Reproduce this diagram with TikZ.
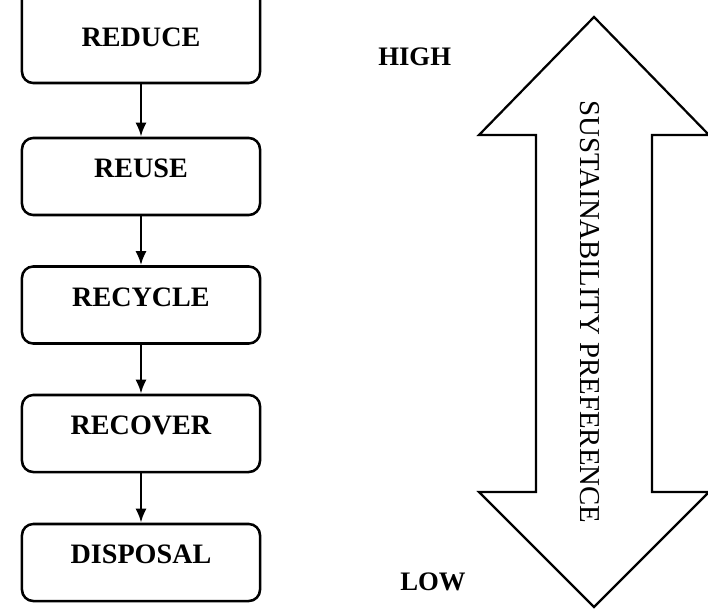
\documentclass[tikz,border=0pt]{standalone}
\usepackage{tikz}
\usetikzlibrary{positioning,arrows.meta}
\usepackage{fontspec}
\setmainfont{Liberation Serif}

\begin{document}
\begin{tikzpicture}[x=0.025cm, y=-0.025cm,
					stage/.style={rectangle, draw, rounded corners=8pt, line width=1.8pt,
						minimum width=5.95cm, minimum height=1.925cm,
						text height=12pt, text depth=10pt,
						font=\fontsize{20}{24}\selectfont\bfseries},
					flow/.style={-{Latex[length=10pt,width=8pt]}, line width=2pt}]
					\useasboundingbox (0,0) rectangle (708,610);
					% the five stages
					\node[stage, minimum height=2.7cm, text height=37pt, text depth=12pt] (reduce) at (141,29) {REDUCE};
					\node[stage] (reuse) at (141,176.5) {REUSE};
					\node[stage] (recycle) at (141,305) {RECYCLE};
					\node[stage] (recover) at (141,433.5) {RECOVER};
					\node[stage] (disposal) at (141,562.5) {DISPOSAL};
					\draw[flow] (reduce) -- (reuse);
					\draw[flow] (reuse) -- (recycle);
					\draw[flow] (recycle) -- (recover);
					\draw[flow] (recover) -- (disposal);
					% double headed arrow
					\draw[line width=1.6pt, line join=miter] (594,17) -- (709,135) -- (652,135)
						-- (652,492) -- (709,492) -- (594,607) -- (479,492) -- (536,492)
						-- (536,135) -- (479,135) -- cycle;
					\node[rotate=-90, inner sep=0, font=\fontsize{20.5}{24}\selectfont] (pref) at (590,312) {SUSTAINABILITY PREFERENCE};
					\node[anchor=west, inner sep=0, font=\fontsize{19}{23}\selectfont\bfseries] (high) at (378,57) {HIGH};
					\node[anchor=west, inner sep=0, font=\fontsize{19}{23}\selectfont\bfseries] (low) at (400,582) {LOW};
				\end{tikzpicture}
\end{document}
